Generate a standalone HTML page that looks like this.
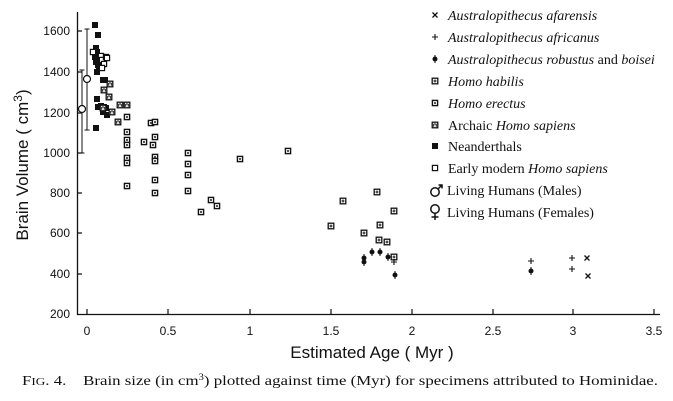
<!DOCTYPE html>
<html><head><meta charset="utf-8"><style>
html,body{margin:0;padding:0;background:#fff;}
svg{display:block}
.t{font-family:"Liberation Sans",sans-serif;fill:#111}
.s{font-family:"Liberation Serif",serif;fill:#111}
</style></head><body>
<svg width="673" height="401" viewBox="0 0 673 401" xmlns="http://www.w3.org/2000/svg">
<defs>
<g id="ne"><rect x="-3" y="-3" width="6" height="6" fill="#111"/></g>
<g id="em"><rect x="-2.6" y="-2.6" width="5.2" height="5.2" fill="#fff" stroke="#111" stroke-width="1.2"/></g>
<g id="er"><rect x="-2.6" y="-2.6" width="5.2" height="5.2" fill="#fff" stroke="#111" stroke-width="1.4"/><rect x="-1" y="-1" width="2" height="2" fill="#555"/></g>
<g id="ha"><rect x="-2.8" y="-2.8" width="5.6" height="5.6" fill="#fff" stroke="#111" stroke-width="1.3"/><path d="M-1.5 0H1.5M0 -1.5V1.5" stroke="#111" stroke-width="1"/></g>
<g id="ar"><rect x="-2.8" y="-2.8" width="5.6" height="5.6" fill="#fff" stroke="#111" stroke-width="1.3"/><path d="M-1.3 -1V1.8M1.3 -1V1.8M-1.3 -1H1.3" stroke="#111" stroke-width="1"/></g>
<g id="ro"><circle r="2.5" fill="#111"/><path d="M0 -4V4" stroke="#111" stroke-width="1"/></g>
<g id="af"><path d="M-3 0H3M0 -3V3" stroke="#111" stroke-width="1.1"/></g>
<g id="xa"><path d="M-2.5 -2.5L2.5 2.5M2.5 -2.5L-2.5 2.5" stroke="#111" stroke-width="1.3"/></g>
</defs>
<path d="M77.5 12V315M77 314.5H660" stroke="#111" stroke-width="1.3" fill="none"/>
<g stroke="#111" stroke-width="1.2">
<path d="M77 31H82M77 72H82M77 113H82M77 153H82M77 193H82M77 233H82M77 274H82"/>
<path d="M87 309V314M168 309V314M250 309V314M331 309V314M412 309V314M493 309V314M573 309V314M654 309V314"/>
</g>
<g class="t" font-size="12" text-anchor="end">
<text x="70" y="35">1600</text><text x="70" y="76">1400</text><text x="70" y="117">1200</text><text x="70" y="157">1000</text><text x="70" y="197">800</text><text x="70" y="237">600</text><text x="70" y="278">400</text><text x="70" y="318">200</text>
</g>
<g class="t" font-size="12" text-anchor="middle">
<text x="87" y="335">0</text><text x="168" y="335">0.5</text><text x="250" y="335">1</text><text x="331" y="335">1.5</text><text x="412" y="335">2</text><text x="493" y="335">2.5</text><text x="573" y="335">3</text><text x="654" y="335">3.5</text>
</g>
<text class="t" x="372" y="358" font-size="17" text-anchor="middle">Estimated Age ( Myr )</text>
<text class="t" font-size="17" text-anchor="middle" transform="translate(28,165) rotate(-90)">Brain Volume  ( cm<tspan font-size="12" dy="-6">3</tspan><tspan dy="6">)</tspan></text>
<g stroke="#111" stroke-width="1" fill="none">
<path d="M82 70V153M79.5 70H84.5M79.5 153H84.5"/>
<path d="M87 29V130M84.5 29H89.5M84.5 130H89.5"/>
</g>
<circle cx="82" cy="109" r="3.5" fill="#fff" stroke="#111" stroke-width="1.2"/>
<circle cx="87" cy="79" r="3.5" fill="#fff" stroke="#111" stroke-width="1.2"/>
<g>
<use href="#ne" x="95" y="25"/><use href="#ne" x="98" y="35"/><use href="#ne" x="96" y="48"/><use href="#ne" x="97" y="52"/><use href="#ne" x="95" y="57"/><use href="#ne" x="96" y="62"/><use href="#ne" x="98" y="65"/><use href="#ne" x="99" y="68"/><use href="#ne" x="97" y="72"/><use href="#ne" x="103" y="80"/><use href="#ne" x="105" y="80"/><use href="#ne" x="97" y="99"/><use href="#ne" x="98" y="107"/><use href="#ne" x="101" y="106"/><use href="#ne" x="104" y="107"/><use href="#ne" x="103" y="112"/><use href="#ne" x="107" y="115"/><use href="#ne" x="106" y="108"/><use href="#ne" x="96" y="128"/>
</g>
<g>
<use href="#em" x="93" y="52"/><use href="#em" x="101" y="56"/><use href="#em" x="102" y="60"/><use href="#em" x="104" y="64"/><use href="#em" x="106" y="57"/><use href="#em" x="102" y="68"/><use href="#em" x="107" y="58"/>
</g>
<g>
<use href="#ar" x="110" y="84"/><use href="#ar" x="104" y="90"/><use href="#ar" x="109" y="97"/><use href="#ar" x="103" y="108"/><use href="#ar" x="112" y="112"/><use href="#ar" x="120" y="105"/><use href="#ar" x="118" y="122"/><use href="#ar" x="127" y="105"/>
</g>
<g>
<use href="#er" x="127" y="117"/><use href="#er" x="127" y="132"/><use href="#er" x="127" y="140"/><use href="#er" x="127" y="145"/><use href="#er" x="127" y="158"/><use href="#er" x="127" y="163"/><use href="#er" x="127" y="186"/>
<use href="#er" x="144" y="142"/><use href="#er" x="151" y="123"/><use href="#er" x="155" y="122"/><use href="#er" x="153" y="145"/><use href="#er" x="155" y="137"/><use href="#er" x="155" y="157"/><use href="#er" x="155" y="161"/><use href="#er" x="155" y="180"/><use href="#er" x="155" y="193"/>
<use href="#er" x="188" y="153"/><use href="#er" x="188" y="164"/><use href="#er" x="188" y="175"/><use href="#er" x="188" y="191"/>
<use href="#er" x="201" y="212"/><use href="#er" x="211" y="200"/><use href="#er" x="217" y="206"/>
<use href="#er" x="240" y="159"/><use href="#er" x="288" y="151"/>
</g>
<g>
<use href="#ha" x="331" y="226"/><use href="#ha" x="343" y="201"/><use href="#ha" x="377" y="192"/><use href="#ha" x="394" y="211"/><use href="#ha" x="380" y="225"/><use href="#ha" x="364" y="233"/><use href="#ha" x="379" y="240"/><use href="#ha" x="387" y="242"/><use href="#ha" x="394" y="257"/>
</g>
<g>
<use href="#ro" x="364" y="258"/><use href="#ro" x="364" y="262"/><use href="#ro" x="372" y="252"/><use href="#ro" x="380" y="252"/><use href="#ro" x="388" y="257"/><use href="#ro" x="395" y="275"/><use href="#ro" x="531" y="271"/>
</g>
<g>
<use href="#af" x="394" y="262"/><use href="#af" x="531" y="261"/><use href="#af" x="572" y="258"/><use href="#af" x="572" y="269"/>
</g>
<g><use href="#xa" x="587" y="258"/><use href="#xa" x="588" y="276"/></g>
<g>
<use href="#xa" x="435" y="15"/><use href="#af" x="435" y="37"/><use href="#ro" x="435" y="59"/><use href="#ha" x="435" y="81"/><use href="#er" x="435" y="103"/><use href="#ar" x="435" y="125"/><use href="#ne" x="435" y="146"/><use href="#em" x="435" y="168"/>
</g>
<g fill="none" stroke="#111" stroke-width="1.5">
<circle cx="435" cy="192" r="4.2"/><path d="M438 189L442 185M438.5 185H442V188.5"/>
<circle cx="435" cy="209" r="4.2"/><path d="M435 213V220M431.5 217H438.5"/>
</g>
<g class="s" font-size="14">
<text x="448" y="20"><tspan font-style="italic">Australopithecus afarensis</tspan></text>
<text x="448" y="42"><tspan font-style="italic">Australopithecus africanus</tspan></text>
<text x="448" y="64"><tspan font-style="italic">Australopithecus robustus</tspan> and <tspan font-style="italic">boisei</tspan></text>
<text x="448" y="86"><tspan font-style="italic">Homo habilis</tspan></text>
<text x="448" y="108"><tspan font-style="italic">Homo erectus</tspan></text>
<text x="448" y="130">Archaic <tspan font-style="italic">Homo sapiens</tspan></text>
<text x="448" y="151">Neanderthals</text>
<text x="448" y="173">Early modern <tspan font-style="italic">Homo sapiens</tspan></text>
<text x="447" y="195">Living Humans (Males)</text>
<text x="447" y="217">Living Humans (Females)</text>
</g>
<text class="s" x="22" y="385" font-size="14" textLength="636" lengthAdjust="spacingAndGlyphs" xml:space="preserve">F<tspan font-size="11">IG</tspan>. 4.    Brain size (in cm<tspan font-size="9" dy="-5">3</tspan><tspan dy="5">) plotted against time (Myr) for specimens attributed to Hominidae.</tspan></text>
</svg>
</body></html>
